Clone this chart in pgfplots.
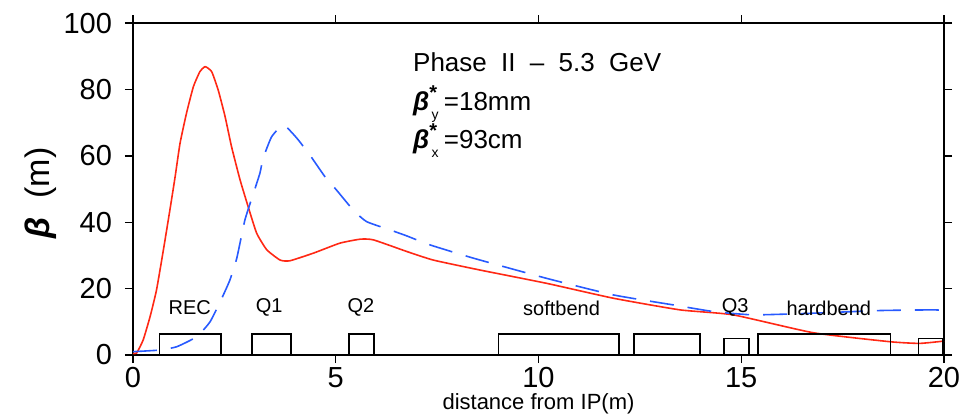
\documentclass[border=0pt]{standalone}
\usepackage{pgfplots}
\pgfplotsset{compat=1.18}
\usepackage{fontspec}
\setmainfont{Liberation Sans}
\definecolor{cred}{RGB}{255,40,20}
\definecolor{cblue}{RGB}{40,90,255}
\begin{document}
\begin{tikzpicture}
\begin{axis}[name=ax, scale only axis, width=405.5pt, height=165.9pt,
  xmin=0, xmax=20, ymin=0, ymax=100,
  xtick={0,5,10,15,20}, ytick={0,20,40,60,80,100},
  tick align=outside, major tick length=4pt,
  tick style={black, line width=0.7pt},
  axis line style={line width=0.7pt},
  ticklabel style={font=\fontsize{14.5}{16}\selectfont},
  yticklabel style={xshift=-3pt},
  xticklabel style={yshift=1.5pt},
  /pgf/number format/assume math mode=true,
  xlabel={distance from IP(m)},
  xlabel style={font=\fontsize{11}{12}\selectfont, inner sep=0pt, at={(axis description cs:0.5,-0.146)}, anchor=center},
  ylabel={{\bfseries\itshape β}\ \ (m)},
  ylabel style={font=\fontsize{17}{18}\selectfont, at={(axis description cs:-0.114,0.488)}, anchor=center},
  clip=false]
\addplot[cred, line width=0.8pt, smooth, tension=0.3] coordinates {
(0,0.5) (0.09,0.6) (0.25,4.5) (0.42,11.5) (0.58,19.6) (0.75,31.7) (0.91,43.7) (1.04,53.8) (1.16,63.8) (1.32,72.9) (1.49,80.9) (1.65,85.4) (1.78,86.9) (1.94,85.4) (2.10,79.9) (2.27,71.9) (2.43,62.8) (2.64,52.8) (2.84,44.7) (3.05,36.7) (3.30,31.7) (3.63,28.6) (3.87,28.4) (4.45,30.7) (5.10,33.7) (5.6,34.9) (5.93,34.7) (6.75,31.2) (7.41,28.6) (8.56,25.6) (10.2,21.6) (11.85,17.1) (13.49,13.6) (14.8,12.1) (16.78,6.7) (18.67,4.0) (19.4,3.5) (20,4.2)};
\addplot[cblue, line width=0.8pt, smooth, tension=0.3, dash pattern=on 12pt off 7pt] coordinates {
(0,1) (0.67,1.5) (1.08,2.5) (1.57,5.5) (1.90,10) (2.19,17.1) (2.39,22.6) (2.56,29.2) (2.76,40.7) (2.97,48.7) (3.13,54.8) (3.21,59.3) (3.42,65.8) (3.71,69.3) (4.03,65.5) (4.36,60.3) (4.73,53.8) (5.02,49.7) (5.43,43.7) (5.76,40.2) (6.34,37.7) (6.75,35.9) (7.32,33.2) (8.39,29.2) (10.2,23.1) (11.85,18.1) (13.32,15.1) (14.31,13.1) (15.3,12.1) (16.78,12.6) (18.42,13.4) (19.74,13.6) (20,13.4)};
% magnets
\addplot[black, line width=0.8pt] coordinates {(0.65,0) (0.65,6.3) (2.17,6.3) (2.17,0)};
\addplot[black, line width=0.8pt] coordinates {(2.93,0) (2.93,6.3) (3.90,6.3) (3.90,0)};
\addplot[black, line width=0.8pt] coordinates {(5.33,0) (5.33,6.3) (5.94,6.3) (5.94,0)};
\addplot[black, line width=0.8pt] coordinates {(9.01,0) (9.01,6.3) (11.98,6.3) (11.98,0)};
\addplot[black, line width=0.8pt] coordinates {(12.36,0) (12.36,6.3) (13.98,6.3) (13.98,0)};
\addplot[black, line width=0.8pt] coordinates {(14.58,0) (14.58,5.0) (15.19,5.0) (15.19,0)};
\addplot[black, line width=0.8pt] coordinates {(15.42,0) (15.42,6.3) (18.68,6.3) (18.68,0)};
\addplot[black, line width=0.8pt] coordinates {(19.37,0) (19.37,5.0) (19.98,5.0) (19.98,0)};
\begin{scope}[every node/.style={font=\fontsize{10}{11}\selectfont, anchor=center}]
\node at (axis cs:1.4,14.2) {REC};
\node at (axis cs:3.36,14.2) {Q1};
\node at (axis cs:5.62,14.2) {Q2};
\node at (axis cs:10.57,14.2) {softbend};
\node at (axis cs:14.85,14.2) {Q3};
\node at (axis cs:17.16,14.2) {hardbend};
\end{scope}
\begin{scope}[every node/.style={font=\fontsize{13}{14}\selectfont, anchor=west, inner sep=0pt}]
\node at (axis cs:6.9,88.1) {Phase\hspace{0.55em}II\hspace{0.55em}–\hspace{0.55em}5.3\hspace{0.55em}GeV};
\node at (axis cs:6.9,75.5) {{\bfseries\itshape β}\rlap{\raisebox{0.75ex}{\fontsize{10}{10}\selectfont\bfseries *}}\raisebox{-0.7ex}{\fontsize{7}{7}\selectfont\,y}\hspace{0.2em}=18mm};
\node at (axis cs:6.9,64.5) {{\bfseries\itshape β}\rlap{\raisebox{0.75ex}{\fontsize{10}{10}\selectfont\bfseries *}}\raisebox{-0.7ex}{\fontsize{7}{7}\selectfont\,x}\hspace{0.2em}=93cm};
\end{scope}
\end{axis}
\pgfresetboundingbox
\path (ax.south west) ++(-66.5pt,-29pt) rectangle ++(480pt,206.5pt);
\end{tikzpicture}
\end{document}
